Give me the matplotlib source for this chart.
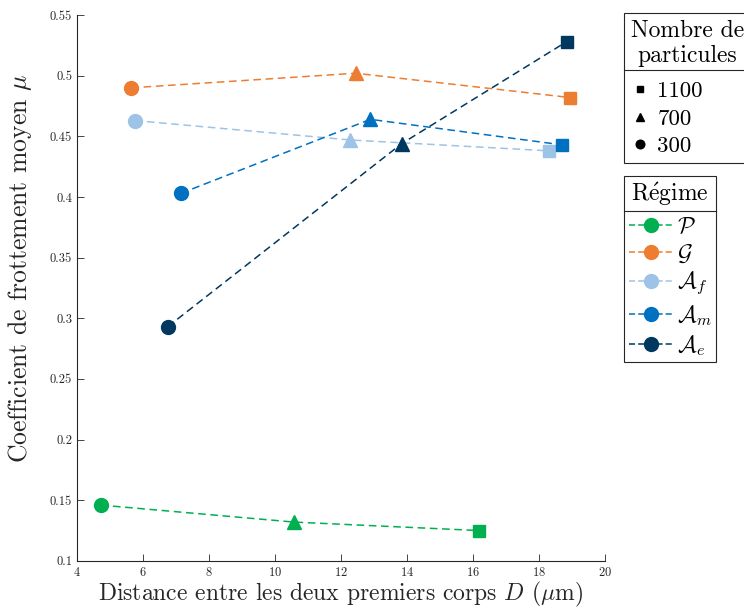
import matplotlib
matplotlib.use("Agg")
import matplotlib.pyplot as plt
from matplotlib.lines import Line2D

plt.rcParams['font.family'] = ['cmr10', 'DejaVu Serif']
plt.rcParams['mathtext.fontset'] = 'cm'
plt.rcParams['axes.formatter.use_mathtext'] = True

# Particle counts -> marker shapes (order of points in each series)
particles = [300, 700, 1100]
markers = ['o', '^', 's']
marker_sizes = [10, 10, 8]

# Regimes
regimes = [r'$\mathcal{P}$', r'$\mathcal{G}$', r'$\mathcal{A}_f$', r'$\mathcal{A}_m$', r'$\mathcal{A}_e$']
colors = ['#00B050', '#ED7D31', '#9DC3E6', '#0070C0', '#00385F']

# Distance D (um) for 300, 700, 1100 particles
D_P = [4.72, 10.58, 16.2]
D_G = [5.65, 12.45, 18.95]
D_Af = [5.75, 12.28, 18.33]
D_Am = [7.15, 12.9, 18.7]
D_Ae = [6.75, 13.85, 18.85]

# Mean friction coefficient mu
mu_P = [0.146, 0.132, 0.125]
mu_G = [0.490, 0.502, 0.482]
mu_Af = [0.463, 0.447, 0.438]
mu_Am = [0.403, 0.464, 0.443]
mu_Ae = [0.293, 0.444, 0.528]

D_all = [D_P, D_G, D_Af, D_Am, D_Ae]
mu_all = [mu_P, mu_G, mu_Af, mu_Am, mu_Ae]

fig = plt.figure(figsize=(7.44, 6.13), dpi=100)
ax = fig.add_axes([0.1035, 0.085, 0.709, 0.8905])

for D, mu, c in zip(D_all, mu_all, colors):
    ax.plot(D, mu, ls=(0, (5, 3)), color=c, lw=1.1, zorder=2)
    for x, y, m, ms in zip(D, mu, markers, marker_sizes):
        ax.plot(x, y, marker=m, ms=ms, color=c, mec=c, ls='none', zorder=3)

ax.set_xlim(4, 20)
ax.set_ylim(0.1, 0.55)
ax.set_xticks(range(4, 21, 2))
ax.set_yticks([0.1, 0.15, 0.2, 0.25, 0.3, 0.35, 0.4, 0.45, 0.5, 0.55])
ax.set_yticklabels(['0.1', '0.15', '0.2', '0.25', '0.3', '0.35', '0.4', '0.45', '0.5', '0.55'])
ax.tick_params(direction='in', labelsize=9, length=5, width=0.6, colors='#262626')
for s in ['top', 'right']:
    ax.spines[s].set_visible(False)
for s in ['left', 'bottom']:
    ax.spines[s].set_linewidth(0.8)
    ax.spines[s].set_color('#262626')

ax.set_xlabel(r'Distance entre les deux premiers corps $D$ ($\mu$m)', fontsize=17, labelpad=1, color='#262626')
ax.set_ylabel(r'Coefficient de frottement moyen $\mu$', fontsize=18.5, color='#262626',
              va='center')
ax.yaxis.set_label_coords(-0.108, 0.535)

# Legend 1: number of particles
h1 = [Line2D([], [], ls='none', marker=m, color='k', ms=ms * 0.62)
      for m, ms in zip(markers[::-1], marker_sizes[::-1])]
leg1 = fig.legend(h1, [str(p) for p in particles[::-1]], title='Nombre de\nparticules',
                  loc='upper left', bbox_to_anchor=(0.8387, 0.979), fontsize=16.5,
                  title_fontsize=17, fancybox=False, edgecolor='#262626', framealpha=1,
                  borderpad=0.3, handlelength=0.8, handletextpad=0.35, labelspacing=0.32,
                  borderaxespad=0, alignment='left')
leg1.get_frame().set_linewidth(0.8)
leg1.get_title().set_multialignment('center')
leg1._legend_box.sep = 10

# Legend 2: regimes
h2 = [Line2D([], [], ls=(0, (4, 2)), marker='o', ms=10, color=c, lw=1.1) for c in colors]
leg2 = fig.legend(h2, regimes, title=r'R$\mathrm{\acute{e}}$gime', loc='upper left',
                  bbox_to_anchor=(0.8387, 0.713), fontsize=16.5, title_fontsize=17,
                  fancybox=False, edgecolor='#262626', framealpha=1, borderpad=0.2,
                  handlelength=2.0, handletextpad=0.1, labelspacing=0.22, borderaxespad=0)
leg2.get_frame().set_linewidth(0.8)
leg2._legend_box.sep = 6

# separator line under legend titles
fig.canvas.draw()
r = fig.canvas.get_renderer()
inv = fig.transFigure.inverted()
for leg in [leg1, leg2]:
    fb = leg.get_frame().get_window_extent(r)
    tb = leg.get_title().get_window_extent(r)
    ysep = tb.y0 - 3
    (x0, y0) = inv.transform((fb.x0, ysep))
    (x1, _) = inv.transform((fb.x1, ysep))
    fig.add_artist(Line2D([x0, x1], [y0, y0], color='#262626', lw=0.8,
                          transform=fig.transFigure, zorder=10))

fig.savefig('out.png', dpi=100)
